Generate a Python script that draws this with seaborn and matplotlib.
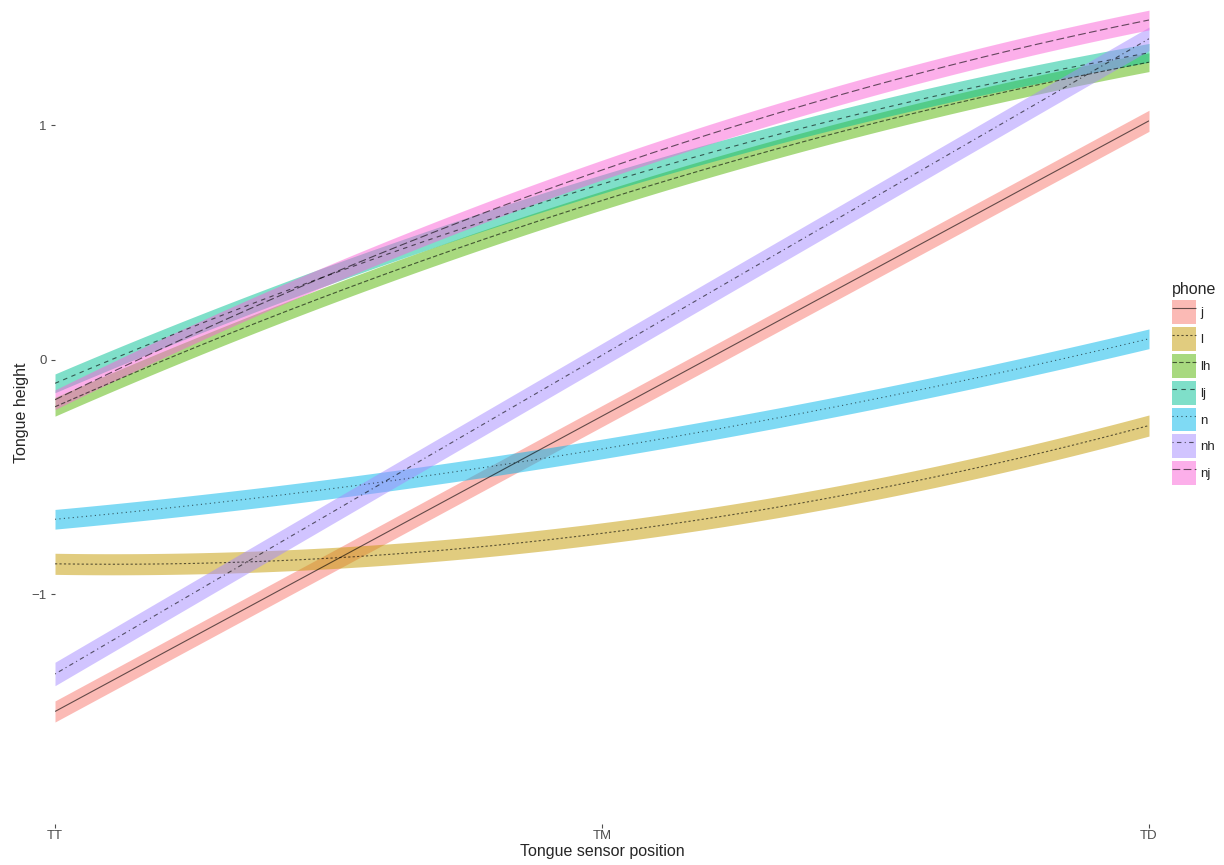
import numpy as np
import pandas as pd
import seaborn as sns
import matplotlib.pyplot as plt
from matplotlib.patches import Patch
from matplotlib.lines import Line2D

positions = ['TT', 'TM', 'TD']
phones = ['j', 'l', 'lh', 'lj', 'n', 'nh', 'nj']
colors = ['#F8766D', '#C49A00', '#53B400', '#00C094', '#00B6EB', '#A58AFF', '#FB61D7']

# tongue height at TT, TM, TD
h_j = [-1.50, -0.24, 1.02]
h_l = [-0.87, -0.74, -0.28]
h_lh = [-0.20, 0.68, 1.27]
h_lj = [-0.10, 0.75, 1.31]
h_n = [-0.68, -0.38, 0.09]
h_nh = [-1.34, 0.02, 1.37]
h_nj = [-0.17, 0.81, 1.45]
heights = [h_j, h_l, h_lh, h_lj, h_n, h_nh, h_nj]
# half-width of the confidence ribbon
half_se = [0.045, 0.045, 0.040, 0.040, 0.042, 0.050, 0.042]

dashes = {
    'j': (0, ()),
    'l': (0, (2, 2)),
    'lh': (0, (4, 2)),
    'lj': (0, (4, 4)),
    'n': (0, (1, 3)),
    'nh': (0, (1, 3, 4, 3)),
    'nj': (0, (7, 3)),
}

sns.set_theme(style="white")
plt.rcParams['font.family'] = ['Liberation Sans', 'DejaVu Sans']

fig = plt.figure(figsize=(12.24, 8.65), dpi=100)
ax = fig.add_axes([55 / 1224, 1 - 824 / 865, (1149 - 55) / 1224, 824 / 865 - 0.002])

xs = np.arange(len(positions))
grid = np.linspace(0, len(positions) - 1, 200)
handles = []
for ph, col, h, se in zip(phones, colors, heights, half_se):
    fit = np.polyval(np.polyfit(xs, h, 2), grid)
    ax.fill_between(grid, fit - se, fit + se, color=col, alpha=0.5, lw=0)
    df = pd.DataFrame({'x': grid, 'y': fit})
    sns.lineplot(data=df, x='x', y='y', ax=ax, color='black', alpha=0.6,
                 lw=0.8, linestyle=dashes[ph])
    handles.append((Patch(facecolor=col, alpha=0.5, edgecolor='none'),
                    Line2D([], [], color='black', alpha=0.6, lw=0.8, linestyle=dashes[ph])))

ax.set_xlim(0, 2)
ax.set_ylim(-1.98, 1.528)
ax.set_xticks(xs)
ax.set_xticklabels(positions)
ax.set_yticks([-1, 0, 1])
ax.set_yticklabels(['\u22121', '0', '1'])
ax.tick_params(axis='x', pad=1)
ax.tick_params(axis='y', pad=3)
ax.tick_params(axis='both', labelsize=9.5, labelcolor='#4d4d4d', color='#4d4d4d',
               length=3, width=0.8, bottom=True, left=True)
ax.set_xlabel('Tongue sensor position', fontsize=11.5, labelpad=2)
ax.set_ylabel('Tongue height', fontsize=11.5, labelpad=2)
for s in ax.spines.values():
    s.set_visible(False)

leg = ax.legend(handles, phones, title='phone', loc='upper left',
                bbox_to_anchor=(1.021, 0.659), frameon=False, fontsize=9.5,
                title_fontsize=11.5, handlelength=1.8, handleheight=2.4,
                labelspacing=0.23, handletextpad=0.35, borderaxespad=0,
                borderpad=0)
leg._legend_box.align = 'left'

fig.savefig('out.png', dpi=100)
